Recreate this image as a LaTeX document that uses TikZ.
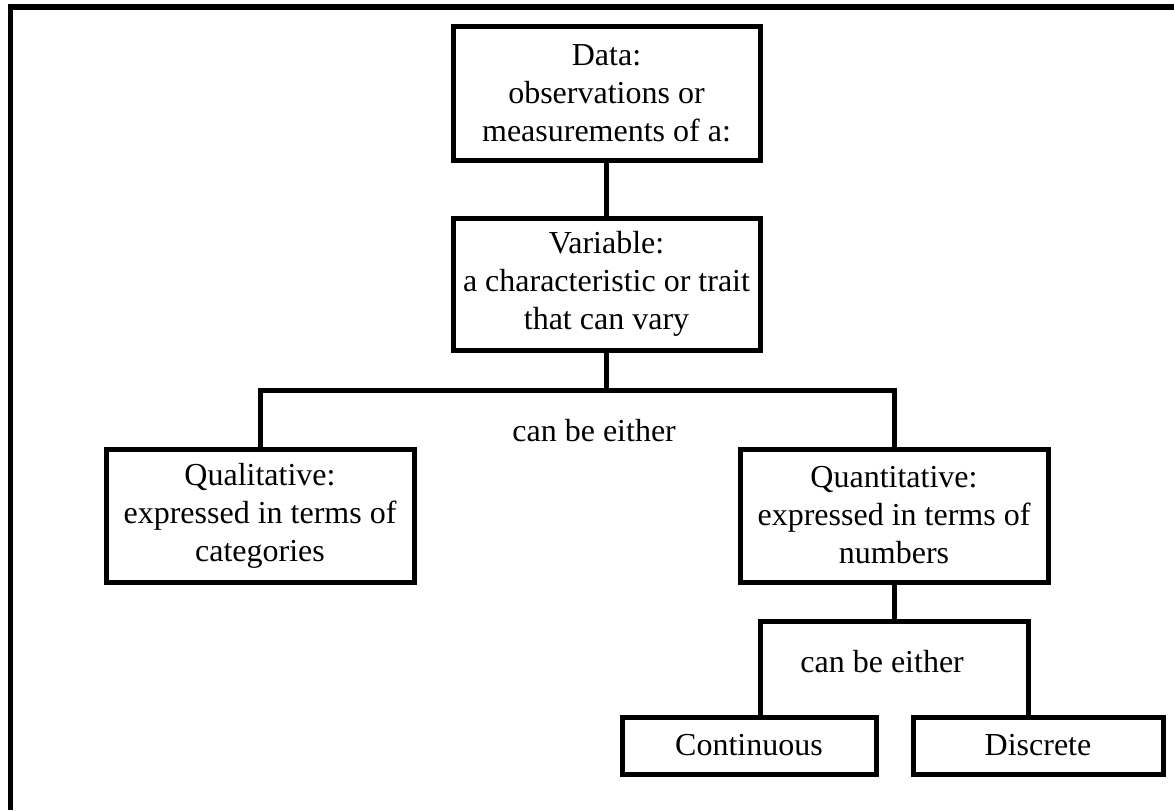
\documentclass[tikz,border=0pt]{standalone}
\usepackage{fontspec}
\setmainfont{Liberation Serif}
\usetikzlibrary{positioning}

\begin{document}
\begin{tikzpicture}[
    x=0.5pt, y=-0.5pt,
    box/.style={draw, line width=2.5pt, align=center, inner sep=2pt, font=\fontsize{16}{19}\selectfont},
    link/.style={line width=2.5pt},
    note/.style={inner sep=0pt, font=\fontsize{16}{19}\selectfont},
    frame/.style={line width=2.75pt}
]
    \useasboundingbox (0,0) rectangle (1174,810);

    % rand oben und links
    \draw[frame] (10.5,810) -- (10.5,7) -- (1174,7);

    % obere kette
    \node[box, minimum width=153.5pt, minimum height=67pt] (data) at (606.5, 93)
    {Data:\\observations or\\measurements of a:};
    \node[box, minimum width=153.5pt, minimum height=66pt] (variable) at (606.5, 284)
    {Variable:\\a characteristic or trait\\that can vary};

    % zwei arten
    \node[box, minimum width=154pt, minimum height=66.5pt] (qualitative) at (260, 515.5)
    {Qualitative:\\expressed in terms of\\categories};
    \node[box, minimum width=154pt, minimum height=66.5pt] (quantitative) at (894, 515.5)
    {Quantitative:\\expressed in terms of\\numbers};

    % unterteilung quantitativ
    \node[box, minimum width=127pt, minimum height=28.5pt] (continuous) at (749, 745.5) {Continuous};
    \node[box, minimum width=125pt, minimum height=28.5pt] (discrete) at (1038, 745.5) {Discrete};

    \node[note, anchor=base west] (either) at (512, 441) {can be either};
    \node[note, anchor=base west] (eitherNum) at (800, 672) {can be either};

    % verbindungen
    \coordinate (fork) at (606.5, 390);
    \coordinate (forkNum) at (894, 621);
    \draw[link] (data) -- (variable);
    \draw[link] (variable) -- (fork);
    \draw[link] (qualitative) |- (fork) -| (quantitative);
    \draw[link] (quantitative) -- (forkNum);
    \draw[link] ([xshift=5.5pt]continuous.north) |- (forkNum) -| ([xshift=-5pt]discrete.north);
\end{tikzpicture}
\end{document}
